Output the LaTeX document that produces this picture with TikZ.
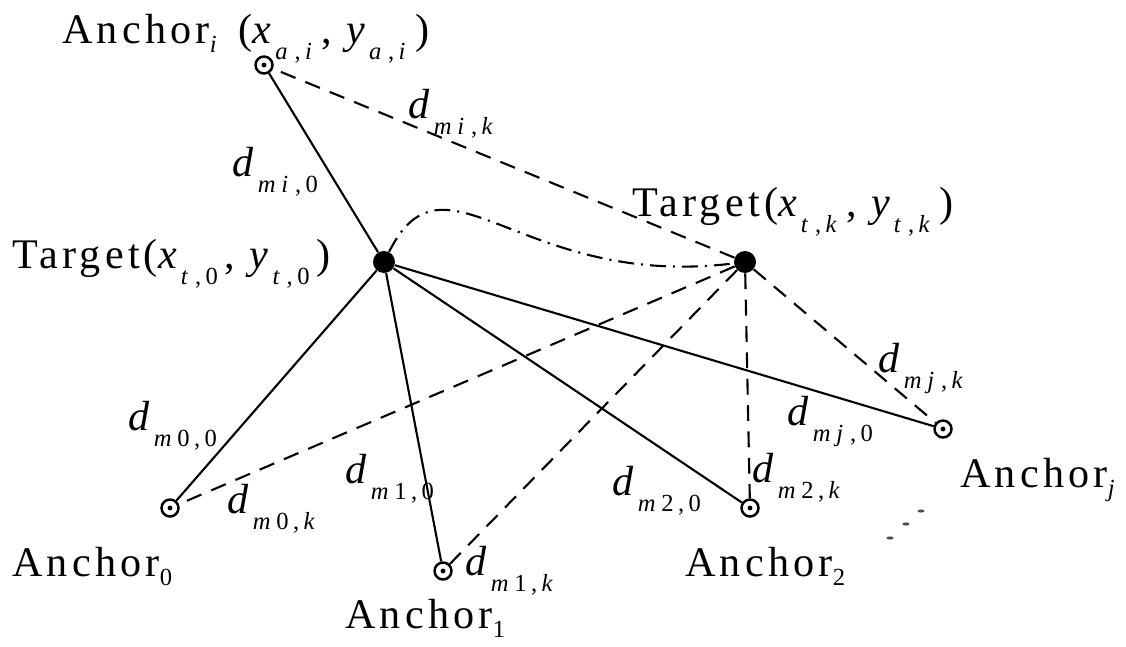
\documentclass[tikz,border=0pt]{standalone}
\usepackage{fontspec}
\setmainfont{Liberation Serif}[LetterSpace=10]
\usetikzlibrary{positioning}
% lowered indices
\newcommand{\lowidx}[1]{\raisebox{-0.4em}{\fontsize{14}{14}\selectfont#1}}
\newcommand{\anchidx}[1]{\raisebox{-0.22em}{\fontsize{14}{14}\selectfont#1}}
\newcommand{\cidx}[2]{\lowidx{#1\hspace{2.5pt},\hspace{2.5pt}#2}}
\newcommand{\dlab}[2]{\textit{d}\lowidx{\textit{m}\hspace{2pt}#1\hspace{2.5pt},\hspace{2.5pt}#2}}
% coordinate pair (x_{..}, y_{..})
\newcommand{\cpair}[2]{(\textit{x}\cidx{#1}{#2}\hspace{4pt},\hspace{8pt}\textit{y}\cidx{#1}{#2}\hspace{4pt})}

\begin{document}
\begin{tikzpicture}[x=0.02cm, y=-0.02cm,
  every node/.style={font=\fontsize{24}{24}\selectfont},
  txt/.style={anchor=base west, inner sep=0pt},
  anchorpt/.style={circle, draw, line width=1.4pt, minimum size=0.34cm, inner sep=0pt,
    path picture={\fill (path picture bounding box.center) circle (1.4pt);}},
  targetpt/.style={circle, fill, minimum size=0.44cm, inner sep=0pt},
  solidlink/.style={line width=1.2pt},
  dashlink/.style={line width=1.2pt, dash pattern=on 9pt off 6pt},
  dashdot/.style={line width=1.2pt, dash pattern=on 9pt off 4pt on 1.2pt off 4pt}]
  \useasboundingbox (0,0) rectangle (1126,646);
  % Anchors
  \node[anchorpt] (ai) at (264,65) {};
  \node[anchorpt] (a0) at (170,508) {};
  \node[anchorpt] (a1) at (443,571) {};
  \node[anchorpt] (a2) at (750,508) {};
  \node[anchorpt] (aj) at (943,429) {};
  % Targets
  \node[targetpt] (t0) at (384,262) {};
  \node[targetpt] (tk) at (745,262) {};
  % Links
  \foreach \a in {ai,a0,a1,a2,aj}
    \draw[solidlink] (t0) -- (\a);
  \foreach \a in {ai,a0,a1,a2,aj}
    \draw[dashlink] (tk) -- (\a);
  \draw[dashdot] (t0) .. controls (445,140) and (520,290) .. (tk);
  % Point labels
  \node[txt] (lai) at (62,43) {Anchor\anchidx{\textit{i}}\hspace{11pt}\cpair{\textit{a}}{\textit{i}}};
  \node[txt] (lt0) at (12,268) {Target\cpair{\textit{t}}{0}};
  \node[txt] (ltk) at (632,216) {Target\cpair{\textit{t}}{\textit{k}}};
  \node[txt] (la0) at (12,576) {Anchor\anchidx{0}};
  \node[txt] (la1) at (345,628) {Anchor\anchidx{1}};
  \node[txt] (la2) at (685,576) {Anchor\anchidx{2}};
  \node[txt] (laj) at (960,487) {Anchor\anchidx{\textit{j}}};
  % Distance labels
  \node[txt] (dik) at (408,118) {\dlab{\textit{i}}{\textit{k}}};
  \node[txt] (di0) at (232,176) {\dlab{\textit{i}}{0}};
  \node[txt] (d00) at (128,430) {\dlab{0}{0}};
  \node[txt] (d0k) at (227,513) {\dlab{0}{\textit{k}}};
  \node[txt] (d10) at (345,483) {\dlab{1}{0}};
  \node[txt] (d1k) at (465,575) {\dlab{1}{\textit{k}}};
  \node[txt] (d20) at (612,495) {\dlab{2}{0}};
  \node[txt] (d2k) at (752,482) {\dlab{2}{\textit{k}}};
  \node[txt] (dj0) at (787,425) {\dlab{\textit{j}}{0}};
  \node[txt] (djk) at (878,372) {\dlab{\textit{j}}{\textit{k}}};
  % More anchors
  \foreach \x/\y in {890/538, 906/524, 921/511}
    \fill[black!70] (\x,\y) ellipse [x radius=2pt, y radius=0.9pt];
\end{tikzpicture}
\end{document}
